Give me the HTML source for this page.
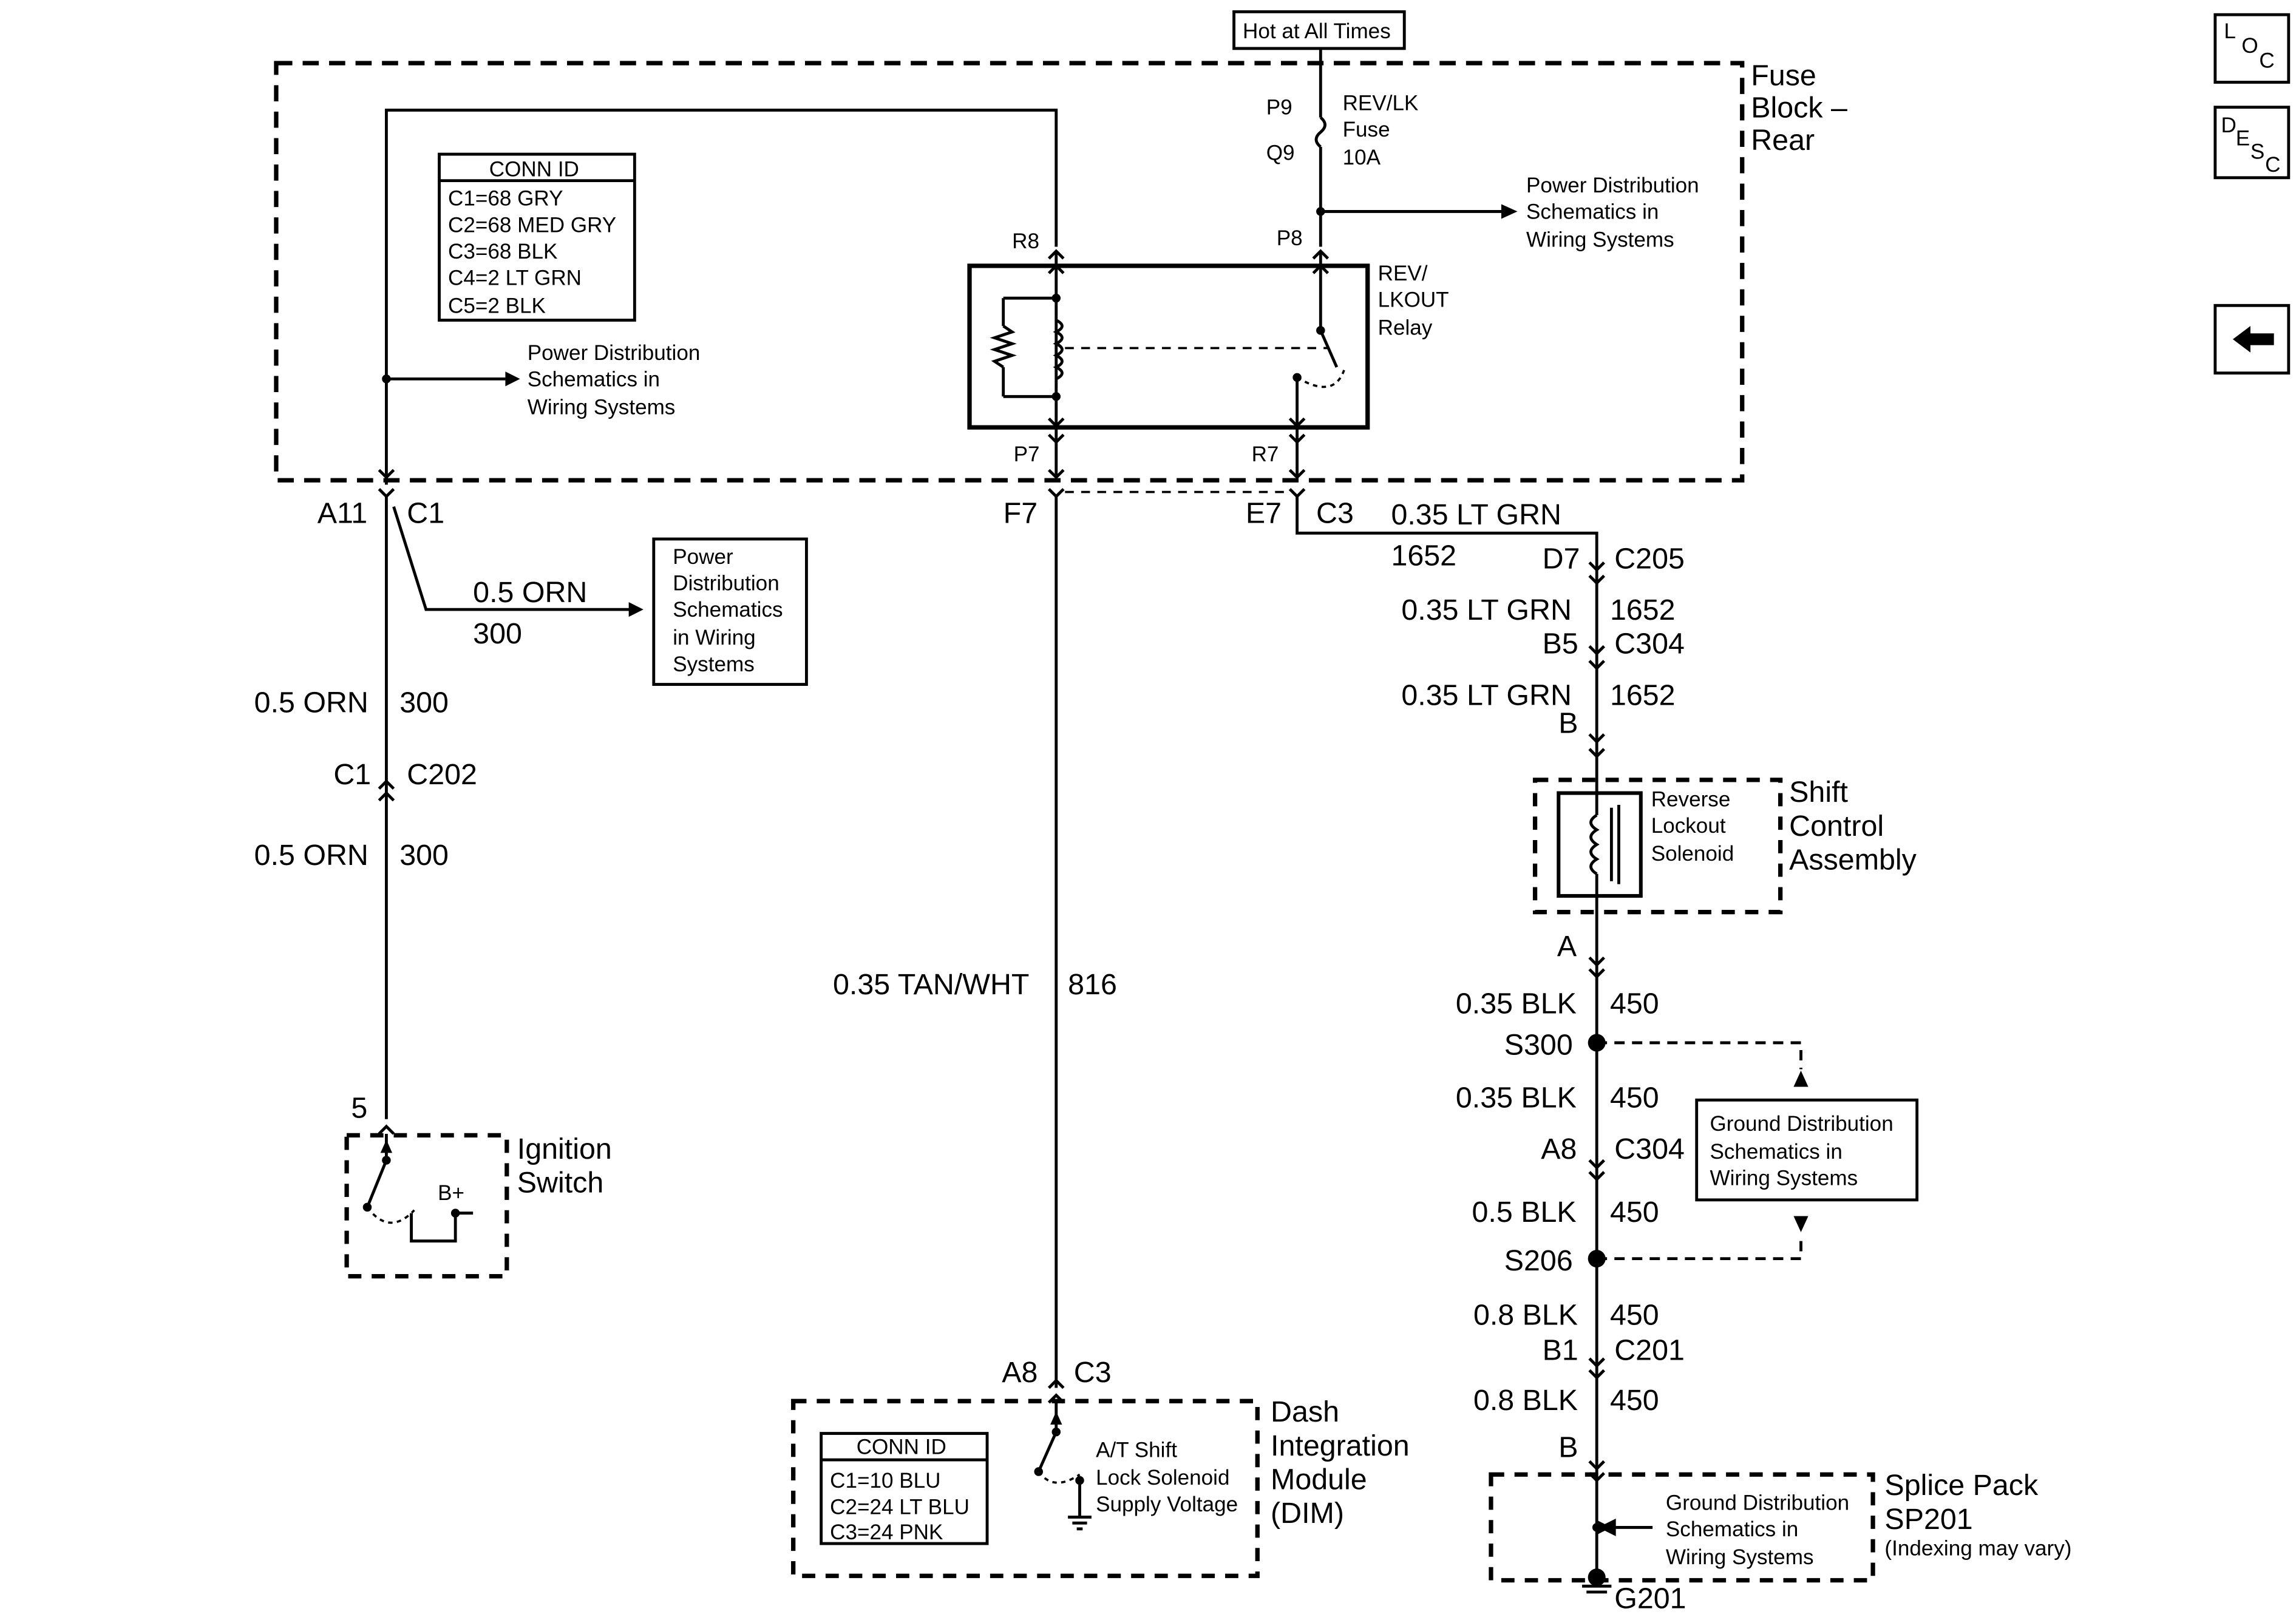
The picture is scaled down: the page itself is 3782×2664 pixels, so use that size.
<!DOCTYPE html>
<html><head><meta charset="utf-8"><style>
html,body{margin:0;padding:0;background:#fff}
svg{display:block}
text{font-family:"Liberation Sans",Arial,sans-serif;fill:#000}
.b{font-size:20px}.s{font-size:14.5px}.m{font-size:16px}
</style></head><body>
<svg width="3782" height="2664" viewBox="0 0 1563 1101" xmlns="http://www.w3.org/2000/svg">
<g fill="none" stroke="#000" stroke-width="2">
<!-- top boxes -->
<rect x="840" y="8" width="116" height="25"/>
<rect x="1508" y="10" width="50" height="46"/>
<rect x="1508" y="73" width="50" height="48"/>
<rect x="1508" y="208" width="50" height="46"/>
<!-- fuse block dashed -->
<rect x="188" y="43" width="998" height="284" stroke-width="3" stroke-dasharray="11,7"/>
<!-- conn id -->
<rect x="299" y="105" width="133" height="113"/>
<line x1="299" y1="123" x2="432" y2="123"/>
<!-- wire loop -->
<polyline points="263,330 263,75 719,75 719,168"/>
<line x1="263" y1="258" x2="344" y2="258"/>
<!-- fuse wire -->
<line x1="899" y1="33" x2="899" y2="80"/>
<path d="M899,80 q6,5 0,10 q-6,5 0,10"/>
<line x1="899" y1="100" x2="899" y2="168"/>
<line x1="899" y1="144" x2="1024" y2="144"/>
<!-- relay -->
<rect x="660" y="181" width="271" height="110" stroke-width="3"/>
<line x1="719" y1="172" x2="719" y2="300"/>
<line x1="683" y1="203" x2="719" y2="203"/>
<line x1="683" y1="270" x2="719" y2="270"/>
<line x1="683" y1="203" x2="683" y2="222"/>
<polyline points="683,222 689,226 677,230 689,234 677,238 689,242 677,246 683,250"/>
<line x1="683" y1="250" x2="683" y2="270"/>
<path d="M719,218 q8,4 0,8 q8,4 0,8 q8,4 0,8 q8,4 0,8 q8,4 0,8"/>
<line x1="725" y1="237" x2="905" y2="237" stroke-dasharray="6,5" stroke-width="1.5"/>
<line x1="899" y1="172" x2="899" y2="225"/>
<line x1="899" y1="225" x2="910" y2="250"/>
<line x1="883" y1="257" x2="883" y2="300"/>
<path d="M883,257 q25,15 32,-5" stroke-dasharray="3,3" stroke-width="1.5"/>
<!-- chevrons relay -->
<polyline points="714,176 719,171 724,176"/><polyline points="714,186 719,181 724,186"/>
<polyline points="894,176 899,171 904,176"/><polyline points="894,186 899,181 904,186"/>
<polyline points="714,285 719,290 724,285"/><polyline points="878,285 883,290 888,285"/>
<polyline points="714,296 719,301 724,296"/><polyline points="878,296 883,301 888,296"/>
<line x1="719" y1="301" x2="719" y2="325"/><line x1="883" y1="301" x2="883" y2="325"/>
<polyline points="714,320 719,325 724,320"/><polyline points="878,320 883,325 888,320"/>
<polyline points="258,320 263,325 268,320"/>
<!-- below block connectors -->
<polyline points="258,333 263,338 268,333"/><polyline points="714,333 719,338 724,333"/><polyline points="878,333 883,338 888,333"/>
<line x1="725" y1="335" x2="878" y2="335" stroke-dasharray="6,5" stroke-width="1.5"/>
<line x1="263" y1="338" x2="263" y2="762"/>
<polyline points="268,345 290,415 430,415"/>
<rect x="445" y="367" width="104" height="99"/>
<polyline points="258,545 263,540 268,545"/><polyline points="258,537 263,532 268,537"/>
<polyline points="258,772 263,767 268,772"/>
<!-- ignition -->
<rect x="236" y="773" width="109" height="96" stroke-width="3" stroke-dasharray="9,7"/>
<line x1="263" y1="772" x2="263" y2="790"/>
<line x1="263" y1="790" x2="250" y2="822"/>
<path d="M250,822 q15,20 32,2" stroke-dasharray="3,3" stroke-width="1.5"/>
<polyline points="280,826 280,845 310,845 310,826 322,826"/>
<!-- middle wire -->
<line x1="719" y1="338" x2="719" y2="945"/>
<polyline points="714,955 719,950 724,955"/><polyline points="714,945 719,940 724,945"/>
<rect x="540" y="954" width="316" height="119" stroke-width="3" stroke-dasharray="9,7"/>
<rect x="559" y="976" width="113" height="75"/>
<line x1="559" y1="994" x2="672" y2="994"/>
<line x1="719" y1="955" x2="719" y2="975"/>
<line x1="719" y1="975" x2="707" y2="1002"/>
<path d="M707,1002 q10,14 28,2" stroke-dasharray="3,3" stroke-width="1.5"/>
<line x1="735" y1="1008" x2="735" y2="1033"/>
<line x1="727" y1="1033" x2="743" y2="1033"/><line x1="730" y1="1037" x2="740" y2="1037"/><line x1="733" y1="1041" x2="737" y2="1041"/>
<!-- right wire -->
<polyline points="883,338 883,363 1087,363 1087,1070"/>
<polyline points="1082,383 1087,388 1092,383"/><polyline points="1082,392 1087,397 1092,392"/>
<polyline points="1082,440 1087,445 1092,440"/><polyline points="1082,450 1087,455 1092,450"/>
<polyline points="1082,500 1087,505 1092,500"/><polyline points="1082,510 1087,515 1092,510"/>
<rect x="1045" y="531" width="167" height="90" stroke-width="3" stroke-dasharray="9,7"/>
<rect x="1061" y="540" width="56" height="70" fill="#fff" stroke-width="2.5"/>
<line x1="1087" y1="540" x2="1087" y2="555"/><line x1="1087" y1="595" x2="1087" y2="610"/>
<path d="M1087,555 q-8,5 0,10 q-8,5 0,10 q-8,5 0,10 q-8,5 0,10"/>
<line x1="1097" y1="550" x2="1097" y2="600"/><line x1="1102" y1="548" x2="1102" y2="602"/>
<polyline points="1082,652 1087,657 1092,652"/><polyline points="1082,660 1087,665 1092,660"/>
<polyline points="1082,790 1087,795 1092,790"/><polyline points="1082,798 1087,803 1092,798"/>
<polyline points="1082,925 1087,930 1092,925"/><polyline points="1082,933 1087,938 1092,933"/>
<polyline points="1082,995 1087,1000 1092,995"/><polyline points="1082,1003 1087,1008 1092,1003"/>
<polyline points="1087,710 1226,710 1226,728" stroke-dasharray="7,5"/>
<polyline points="1087,857 1226,857 1226,840" stroke-dasharray="7,5"/>
<rect x="1155" y="749" width="150" height="68"/>
<rect x="1015" y="1004" width="260" height="72" stroke-width="3" stroke-dasharray="9,7"/>
<line x1="1087" y1="1040" x2="1125" y2="1040"/>
<line x1="1077" y1="1080" x2="1097" y2="1080"/><line x1="1080" y1="1084" x2="1094" y2="1084"/>
</g>
<g fill="#000">
<polygon points="344,253 354,258 344,263"/>
<polygon points="1022,139 1033,144 1022,149"/>
<polygon points="428,410 438,415 428,420"/>
<polygon points="1221,740 1226,729 1231,740"/>
<polygon points="1221,828 1226,839 1231,828"/>
<polygon points="1097,1040 1087,1035 1087,1045" transform="translate(0,0)"/>
<polygon points="1088,1040 1100,1034 1100,1046"/>
<circle cx="263" cy="258" r="3"/><circle cx="899" cy="144" r="3"/>
<circle cx="719" cy="203" r="3"/><circle cx="719" cy="270" r="3"/>
<circle cx="899" cy="225" r="3"/><circle cx="883" cy="257" r="3"/>
<circle cx="263" cy="790" r="3"/><circle cx="250" cy="822" r="3"/><circle cx="310" cy="826" r="3"/>
<circle cx="719" cy="975" r="3"/><circle cx="707" cy="1002" r="3"/><circle cx="735" cy="1008" r="3"/>
<circle cx="1087" cy="710" r="6"/><circle cx="1087" cy="857" r="6"/>
<circle cx="1087" cy="1040" r="3"/><circle cx="1087" cy="1074" r="6"/>
<polygon points="259,785 263,776 267,785"/><polygon points="715,970 719,961 723,970"/>
</g>
<text x="846" y="26" class="s">Hot at All Times</text>
<text x="1514" y="26" class="s">L</text><text x="1526" y="36" class="s">O</text><text x="1538" y="46" class="s">C</text>
<text x="1512" y="90" class="s">D</text><text x="1522" y="99" class="s">E</text><text x="1532" y="108" class="s">S</text><text x="1542" y="117" class="s">C</text>
<polygon points="1520,231 1532,222 1532,227 1548,227 1548,235 1532,235 1532,240" fill="#000"/>
<text x="1192" y="58" class="b">Fuse</text><text x="1192" y="80" class="b">Block –</text><text x="1192" y="102" class="b">Rear</text>
<text x="333" y="120" class="s">CONN ID</text>
<text x="305" y="140" class="s">C1=68 GRY</text><text x="305" y="158" class="s">C2=68 MED GRY</text><text x="305" y="176" class="s">C3=68 BLK</text><text x="305" y="194" class="s">C4=2 LT GRN</text><text x="305" y="213" class="s">C5=2 BLK</text>
<text x="359" y="245" class="s">Power Distribution</text><text x="359" y="263" class="s">Schematics in</text><text x="359" y="282" class="s">Wiring Systems</text>
<text x="862" y="78" class="s">P9</text><text x="862" y="109" class="s">Q9</text>
<text x="914" y="75" class="s">REV/LK</text><text x="914" y="93" class="s">Fuse</text><text x="914" y="112" class="s">10A</text>
<text x="1039" y="131" class="s">Power Distribution</text><text x="1039" y="149" class="s">Schematics in</text><text x="1039" y="168" class="s">Wiring Systems</text>
<text x="869" y="167" class="s">P8</text><text x="689" y="169" class="s">R8</text>
<text x="938" y="191" class="s">REV/</text><text x="938" y="209" class="s">LKOUT</text><text x="938" y="228" class="s">Relay</text>
<text x="690" y="314" class="s">P7</text><text x="852" y="314" class="s">R7</text>
<text x="216" y="356" class="b">A11</text><text x="277" y="356" class="b">C1</text>
<text x="683" y="356" class="b">F7</text><text x="848" y="356" class="b">E7</text><text x="896" y="356" class="b">C3</text>
<text x="947" y="357" class="b">0.35 LT GRN</text><text x="947" y="385" class="b">1652</text>
<text x="1050" y="387" class="b">D7</text><text x="1099" y="387" class="b">C205</text>
<text x="322" y="410" class="b">0.5 ORN</text><text x="322" y="438" class="b">300</text>
<text x="458" y="384" class="s">Power</text><text x="458" y="402" class="s">Distribution</text><text x="458" y="420" class="s">Schematics</text><text x="458" y="439" class="s">in Wiring</text><text x="458" y="457" class="s">Systems</text>
<text x="954" y="422" class="b">0.35 LT GRN</text><text x="1096" y="422" class="b">1652</text>
<text x="1050" y="445" class="b">B5</text><text x="1099" y="445" class="b">C304</text>
<text x="954" y="480" class="b">0.35 LT GRN</text><text x="1096" y="480" class="b">1652</text>
<text x="1061" y="499" class="b">B</text>
<text x="173" y="485" class="b">0.5 ORN</text><text x="272" y="485" class="b">300</text>
<text x="227" y="534" class="b">C1</text><text x="277" y="534" class="b">C202</text>
<text x="173" y="589" class="b">0.5 ORN</text><text x="272" y="589" class="b">300</text>
<text x="1124" y="549" class="s">Reverse</text><text x="1124" y="567" class="s">Lockout</text><text x="1124" y="586" class="s">Solenoid</text>
<text x="1218" y="546" class="b">Shift</text><text x="1218" y="569" class="b">Control</text><text x="1218" y="592" class="b">Assembly</text>
<text x="1060" y="651" class="b">A</text>
<text x="567" y="677" class="b">0.35 TAN/WHT</text><text x="727" y="677" class="b">816</text>
<text x="991" y="690" class="b">0.35 BLK</text><text x="1096" y="690" class="b">450</text>
<text x="1024" y="718" class="b">S300</text>
<text x="991" y="754" class="b">0.35 BLK</text><text x="1096" y="754" class="b">450</text>
<text x="239" y="761" class="b">5</text>
<text x="1164" y="770" class="s">Ground Distribution</text><text x="1164" y="789" class="s">Schematics in</text><text x="1164" y="807" class="s">Wiring Systems</text>
<text x="1049" y="789" class="b">A8</text><text x="1099" y="789" class="b">C304</text>
<text x="352" y="789" class="b">Ignition</text><text x="352" y="812" class="b">Switch</text>
<text x="298" y="817" class="s">B+</text>
<text x="1002" y="832" class="b">0.5 BLK</text><text x="1096" y="832" class="b">450</text>
<text x="1024" y="865" class="b">S206</text>
<text x="1003" y="902" class="b">0.8 BLK</text><text x="1096" y="902" class="b">450</text>
<text x="1050" y="926" class="b">B1</text><text x="1099" y="926" class="b">C201</text>
<text x="1003" y="960" class="b">0.8 BLK</text><text x="1096" y="960" class="b">450</text>
<text x="682" y="941" class="b">A8</text><text x="731" y="941" class="b">C3</text>
<text x="1061" y="992" class="b">B</text>
<text x="865" y="968" class="b">Dash</text><text x="865" y="991" class="b">Integration</text><text x="865" y="1014" class="b">Module</text><text x="865" y="1037" class="b">(DIM)</text>
<text x="583" y="990" class="s">CONN ID</text>
<text x="565" y="1013" class="s">C1=10 BLU</text><text x="565" y="1031" class="s">C2=24 LT BLU</text><text x="565" y="1048" class="s">C3=24 PNK</text>
<text x="746" y="992" class="s">A/T Shift</text><text x="746" y="1011" class="s">Lock Solenoid</text><text x="746" y="1029" class="s">Supply Voltage</text>
<text x="1134" y="1028" class="s">Ground Distribution</text><text x="1134" y="1046" class="s">Schematics in</text><text x="1134" y="1065" class="s">Wiring Systems</text>
<text x="1283" y="1018" class="b">Splice Pack</text><text x="1283" y="1041" class="b">SP201</text><text x="1283" y="1059" class="s">(Indexing may vary)</text>
<text x="1099" y="1095" class="b">G201</text>
</svg>
</body></html>
